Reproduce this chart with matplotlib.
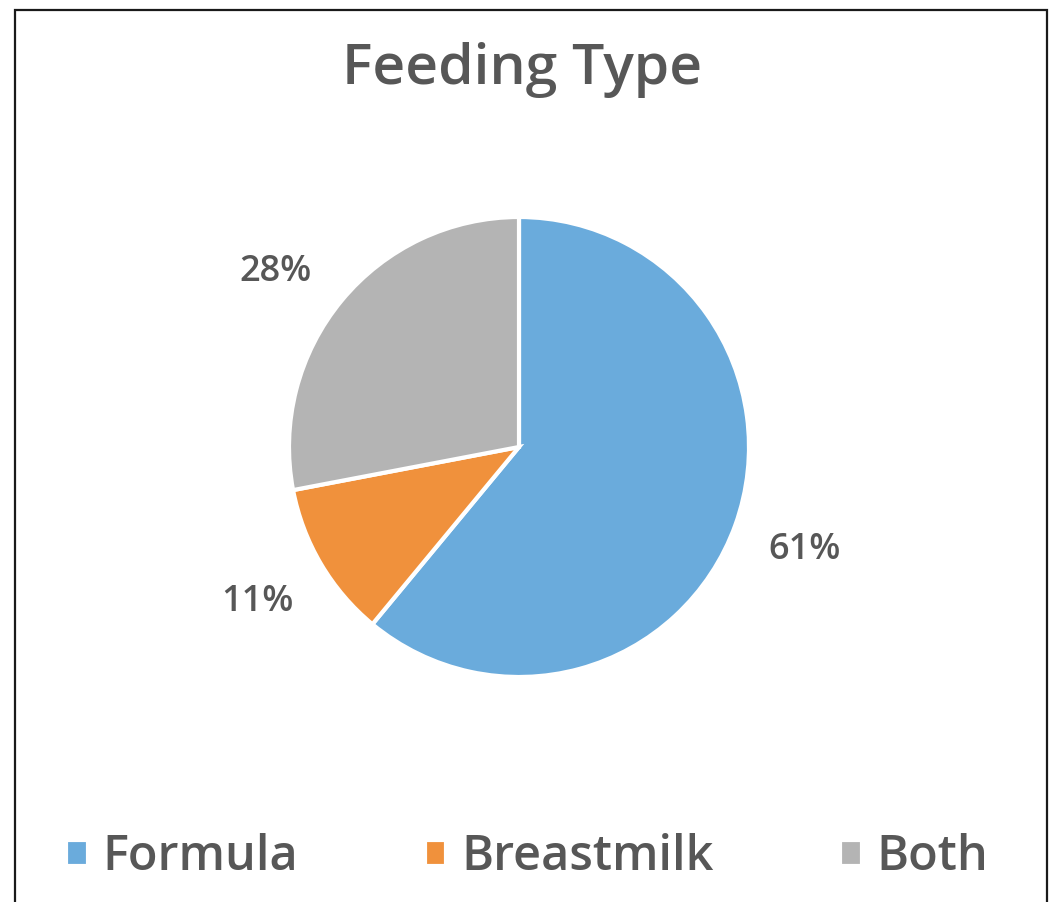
import matplotlib
matplotlib.use('Agg')
import matplotlib.pyplot as plt
from matplotlib.patches import Rectangle

# data
labels = ['Formula', 'Breastmilk', 'Both']
shares = [61, 11, 28]
colours = ['#6aabdc', '#f0913c', '#b4b4b4']

title = 'Feeding Type'
text_col = '#575757'

plt.rcParams['font.family'] = ['Open Sans', 'DejaVu Sans']
plt.rcParams['font.weight'] = 'semibold'

fig = plt.figure(figsize=(10.54, 9.02), dpi=100)
W, H = 1054, 902

# pie centre (519, 447) px, radius 230 px
cx, cy, r = 519, 447, 230
ax = fig.add_axes([(cx - r) / W, (H - cy - r) / H, 2 * r / W, 2 * r / H])

wedges, texts, autotexts = ax.pie(
    shares, colors=colours, startangle=90, counterclock=False,
    autopct='%1.0f%%', pctdistance=1.32,
    wedgeprops=dict(edgecolor='white', linewidth=3),
    textprops=dict(color=text_col, fontsize=26),
)
ax.set_xlim(-1, 1)
ax.set_ylim(-1, 1)
# Excel put the "Both" label higher up (best fit)
autotexts[2].set_position((-1.06, 0.76))

fig.text(0.495, 1 - 70 / H, title, ha='center', va='center',
         fontsize=41, color=text_col)

leg = fig.legend(wedges, labels, loc='center', bbox_to_anchor=(0.5, 1 - 858 / H),
                 ncol=3, frameon=False, fontsize=35,
                 handlelength=0.45, handleheight=0.45, handletextpad=0.3,
                 columnspacing=2.6)
for t in leg.get_texts():
    t.set_color(text_col)

# thin frame around the chart area (bottom edge is cut off)
fig.add_artist(Rectangle((15 / W, -0.01), (1047 - 15) / W, 1 - 10 / H + 0.01,
                         transform=fig.transFigure, fill=False,
                         edgecolor='#1a1a1a', linewidth=1.6))

fig.savefig('out.png', dpi=100, facecolor='white')
